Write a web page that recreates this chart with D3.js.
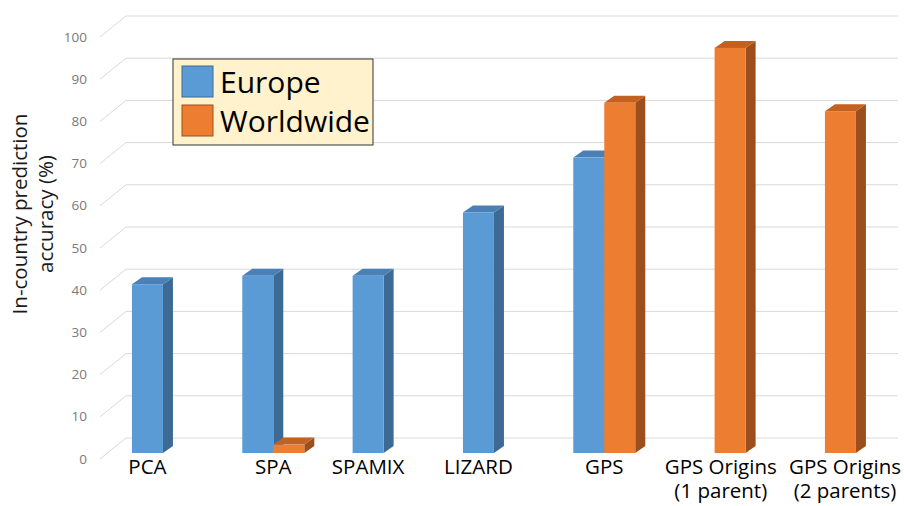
<!DOCTYPE html>
<html lang="en">
<head>
    <meta charset="UTF-8">
    <title>In-country prediction accuracy</title>
    <script src="https://d3js.org/d3.v7.min.js"></script>
    <style>
        body {
            margin: 0;
            padding: 0;
            background: #fff;
            font-family: "Open Sans", sans-serif;
        }
        .grid {
            stroke: #d9d9d9;
            stroke-width: 1;
            fill: none;
        }
        .ytick {
            font-size: 13.5px;
            fill: #7a7a7a;
            text-anchor: end;
        }
        .xtick {
            font-size: 20.5px;
            fill: #000;
            text-anchor: middle;
        }
        .ytitle {
            font-size: 20.5px;
            fill: #1a1a1a;
            text-anchor: middle;
        }
        .legend-text {
            font-size: 30px;
            fill: #000;
        }
    </style>
</head>
<body>
    <svg id="chart" width="904" height="506"></svg>

    <script>
        // data
        const categories = ['PCA', 'SPA', 'SPAMIX', 'LIZARD', 'GPS', 'GPS Origins (1 parent)', 'GPS Origins (2 parents)'];
        const tickLabels = [['PCA'], ['SPA'], ['SPAMIX'], ['LIZARD'], ['GPS'], ['GPS Origins', '(1 parent)'], ['GPS Origins', '(2 parents)']];
        const seriesNames = ['Europe', 'Worldwide'];
        const europe = [40, 42, 42, 57, 70, null, null];
        const worldwide = [null, 2, null, null, 83, 96, 81];
        const yTicks = [0, 10, 20, 30, 40, 50, 60, 70, 80, 90, 100];

        const colors = {
            Europe: { front: '#5b9bd5', side: '#3c6a94', top: '#4a80b6' },
            Worldwide: { front: '#ed7d31', side: '#9c4f1c', top: '#c4611f' }
        };

        const svg = d3.select('#chart');
        const W = 904;

        // front edge of the floor (where the value labels sit)
        const y = d3.scaleLinear().domain([0, 100]).range([459, 37]);
        const wallDx = 26, wallDy = -21;      // depth of the whole plot box
        const barOff = -6;                    // bars sit a little behind the front edge
        const barDx = 10, barDy = -7;         // depth of each bar
        const axisX = 100, rightX = 898;

        const x = d3.scaleBand()
            .domain(categories)
            .range([107.8, 880.1])
            .paddingInner(0.438)
            .paddingOuter(0.219);

        const xs = d3.scaleBand()
            .domain(seriesNames)
            .range([0, x.bandwidth()]);

        // back-wall gridlines with the short diagonal on the left side wall
        const grid = svg.append('g');
        grid.selectAll('path')
            .data(yTicks)
            .join('path')
            .attr('class', 'grid')
            .attr('d', d => `M${axisX},${y(d)} L${axisX + wallDx},${y(d) + wallDy} L${rightX},${y(d) + wallDy}`);

        svg.append('g').selectAll('text')
            .data(yTicks)
            .join('text')
            .attr('class', 'ytick')
            .attr('x', 87)
            .attr('y', d => y(d) + 4.5)
            .text(d => d);

        // bars
        const bars = [];
        categories.forEach((c, i) => {
            [['Europe', europe[i]], ['Worldwide', worldwide[i]]].forEach(([s, v]) => {
                if (v !== null) bars.push({ cat: c, series: s, value: v });
            });
        });

        const yb = v => y(v) + barOff;
        const bw = xs.bandwidth();

        const barG = svg.append('g').selectAll('g')
            .data(bars)
            .join('g');

        barG.append('path')
            .attr('fill', d => colors[d.series].side)
            .attr('d', d => {
                const x1 = x(d.cat) + xs(d.series) + bw;
                const t = yb(d.value), b = yb(0);
                return `M${x1},${t} L${x1 + barDx},${t + barDy} L${x1 + barDx},${b + barDy} L${x1},${b} Z`;
            });

        barG.append('path')
            .attr('fill', d => colors[d.series].top)
            .attr('d', d => {
                const x0 = x(d.cat) + xs(d.series);
                const t = yb(d.value);
                return `M${x0},${t} L${x0 + barDx},${t + barDy} L${x0 + bw + barDx},${t + barDy} L${x0 + bw},${t} Z`;
            });

        barG.append('rect')
            .attr('fill', d => colors[d.series].front)
            .attr('x', d => x(d.cat) + xs(d.series))
            .attr('y', d => yb(d.value))
            .attr('width', bw)
            .attr('height', d => yb(0) - yb(d.value));

        // category labels: centred under the bars that are present,
        // then pushed apart where two neighbours would touch
        const labelX = categories.map(c =>
            d3.mean(bars.filter(b => b.cat === c), b => x(b.cat) + xs(b.series) + bw / 2));

        const xl = svg.append('g').selectAll('text')
            .data(categories)
            .join('text')
            .attr('class', 'xtick')
            .attr('y', 474);
        xl.selectAll('tspan')
            .data((c, i) => tickLabels[i].map(t => ({ t, i })))
            .join('tspan')
            .attr('x', 0)
            .attr('dy', (d, j) => j === 0 ? 0 : 24)
            .text(d => d.t);

        const widths = xl.nodes().map(n =>
            d3.max(Array.from(n.querySelectorAll('tspan')), t => t.getComputedTextLength()));
        const minGap = 17;
        for (let i = 1; i < categories.length; i++) {
            const overlap = (labelX[i - 1] + widths[i - 1] / 2 + minGap) - (labelX[i] - widths[i] / 2);
            if (overlap > 0) {
                labelX[i - 1] -= overlap / 2;
                labelX[i] += overlap / 2;
            }
        }
        // keep the last one inside the picture
        labelX.forEach((lx, i) => {
            labelX[i] = Math.min(lx, W - 3 - widths[i] / 2);
        });
        xl.selectAll('tspan').attr('x', d => labelX[d.i]);

        // y-axis title
        svg.append('text')
            .attr('class', 'ytitle')
            .attr('transform', 'translate(27,214) rotate(-90)')
            .selectAll('tspan')
            .data(['In-country prediction', 'accuracy (%)'])
            .join('tspan')
            .attr('x', 0)
            .attr('dy', (d, i) => i === 0 ? 0 : 26)
            .text(d => d);

        // legend
        const lg = svg.append('g').attr('transform', 'translate(173,59)');
        lg.append('rect')
            .attr('width', 200)
            .attr('height', 86)
            .attr('fill', '#fff2cc')
            .attr('stroke', '#333')
            .attr('stroke-width', 1);
        const li = lg.selectAll('g')
            .data(seriesNames)
            .join('g')
            .attr('transform', (d, i) => `translate(9,${7 + i * 39})`);
        li.append('rect')
            .attr('width', 31)
            .attr('height', 31)
            .attr('fill', d => colors[d].front)
            .attr('stroke', d => colors[d].side)
            .attr('stroke-width', 1);
        li.append('text')
            .attr('class', 'legend-text')
            .attr('x', 38)
            .attr('y', 27)
            .text(d => d);
    </script>
</body>
</html>
